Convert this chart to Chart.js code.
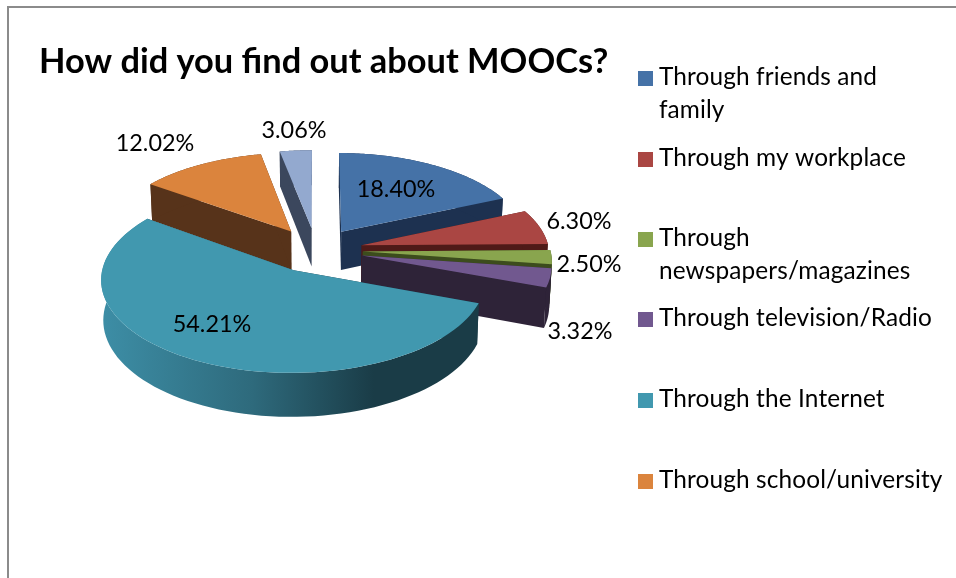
<!DOCTYPE html>
<html>
<head>
<meta charset="utf-8">
<title>How did you find out about MOOCs?</title>
<script src="https://cdn.jsdelivr.net/npm/chart.js@4/dist/chart.umd.min.js"></script>
<style>
  html, body { margin: 0; padding: 0; background: #fff; }
  canvas { display: block; }
</style>
</head>
<body>
<canvas id="chart" width="956" height="578"></canvas>
<script>
// Survey answers, in drawing order clockwise from twelve o'clock
const categories = [
  ['Through friends and', 'family'],
  ['Through my workplace'],
  ['Through', 'newspapers/magazines'],
  ['Through television/Radio'],
  ['Through the Internet'],
  ['Through school/university'],
  ['Other']
];
const shares = [18.40, 6.30, 2.50, 3.32, 54.21, 12.02, 3.06];

// Colours of the top faces and of the side walls
const topColors  = ['#4572a7', '#aa4643', '#89a54e', '#71588f', '#4198af', '#db843d', '#93a9cf'];
const wallColors = ['#1d3150', '#4f1a18', '#3c4c1d', '#2e2338', '#1a3c47', '#57331a', '#3b475d'];

// Back-to-front order so nearer slices paint over farther ones
const paintOrder = [0, 6, 5, 1, 2, 3, 4];

// Centre of each value label
const labelAnchors = [[396, 189], [579, 221], [589, 264], [580, 331], [212, 324], [155, 143], [294, 130]];

// Legend rows: number of rows drawn and the baseline of each entry's first line
const legendCount = 6;
const legendBaselines = [85, 166, 246, 326, 407, 488];

// Tilted-disc camera
const cam = { cx: 316, cy: 250, a: 187.5, b: 89.2, k: 0.093, depth: 39, squeeze: 0.99 };

function project(u, v) {
  const w = 1 - cam.k * v;
  return { x: cam.cx + cam.a * u / w, y: cam.cy + cam.b * v / w, w };
}
function drop(p) {
  return { x: cam.cx + (p.x - cam.cx) * cam.squeeze, y: p.y + cam.depth / p.w };
}
function polygon(ctx, pts, fill) {
  ctx.beginPath();
  pts.forEach((p, i) => i ? ctx.lineTo(p.x, p.y) : ctx.moveTo(p.x, p.y));
  ctx.closePath();
  ctx.fillStyle = fill;
  ctx.fill();
}

const disc3d = {
  id: 'disc3d',
  beforeDraw(chart) {
    // Frame of the chart object, open at the right and bottom
    const { ctx } = chart;
    ctx.save();
    ctx.strokeStyle = '#8b8b8b';
    ctx.lineWidth = 2;
    ctx.beginPath();
    ctx.moveTo(8, 578);
    ctx.lineTo(8, 7);
    ctx.lineTo(956, 7);
    ctx.stroke();
    ctx.restore();
  },
  beforeDatasetsDraw(chart) {
    const { ctx } = chart;
    const arcs = chart.getDatasetMeta(0).data;
    paintOrder.forEach(i => {
      const arc = arcs[i];
      const e = arc.options.offset / arc.outerRadius;
      const mid = (arc.startAngle + arc.endAngle) / 2;
      const ou = Math.cos(mid) * e, ov = Math.sin(mid) * e;
      const apex = project(ou, ov);
      const rim = [];
      const steps = 80;
      for (let s = 0; s <= steps; s++) {
        const t = arc.startAngle + (arc.endAngle - arc.startAngle) * s / steps;
        rim.push(project(ou + Math.cos(t), ov + Math.sin(t)));
      }
      const first = rim[0], last = rim[steps];
      // Side walls: the two cut faces, then the curved rim
      polygon(ctx, [apex, first, drop(first), drop(apex)], wallColors[i]);
      polygon(ctx, [apex, last, drop(last), drop(apex)], wallColors[i]);
      let rimFill = wallColors[i];
      if (i === 4) {
        rimFill = ctx.createLinearGradient(101, 0, 480, 0);
        rimFill.addColorStop(0, '#3d8ea6');
        rimFill.addColorStop(0.4, '#2e6a7c');
        rimFill.addColorStop(0.72, '#1a3c47');
        rimFill.addColorStop(1, '#1a3c47');
      }
      polygon(ctx, rim.concat(rim.map(drop).reverse()), rimFill);
      // Top face
      polygon(ctx, [apex].concat(rim), topColors[i]);
    });
    return false;
  },
  afterDraw(chart) {
    const { ctx } = chart;
    ctx.save();
    // Value labels
    ctx.font = '23.4px Lato';
    ctx.fillStyle = '#000';
    ctx.textAlign = 'center';
    ctx.textBaseline = 'middle';
    shares.forEach((v, i) => {
      ctx.fillText(v.toFixed(2) + '%', labelAnchors[i][0], labelAnchors[i][1]);
    });
    // Legend
    ctx.font = '24.4px Lato';
    ctx.letterSpacing = '0.12px';
    ctx.textAlign = 'left';
    ctx.textBaseline = 'alphabetic';
    for (let i = 0; i < legendCount; i++) {
      const base = legendBaselines[i];
      ctx.fillStyle = topColors[i];
      ctx.fillRect(638, base - 14, 15, 15);
      ctx.fillStyle = '#000';
      categories[i].forEach((line, n) => ctx.fillText(line, 659, base + n * 33));
    }
    ctx.restore();
  }
};

new Chart(document.getElementById('chart'), {
  type: 'pie',
  data: {
    labels: categories.map(c => c.join(' ')),
    datasets: [{
      data: shares,
      backgroundColor: topColors,
      borderWidth: 0,
      offset: 25
    }]
  },
  options: {
    responsive: false,
    animation: false,
    radius: 100,
    layout: { padding: { left: 39, top: 41 } },
    events: [],
    plugins: {
      legend: { display: false },
      tooltip: { enabled: false },
      title: {
        display: true,
        text: 'How did you find out about MOOCs?',
        align: 'start',
        color: '#000',
        padding: 0,
        font: { family: 'Lato', size: 34.4, weight: 'bold' }
      }
    }
  },
  plugins: [disc3d]
});
</script>
</body>
</html>
